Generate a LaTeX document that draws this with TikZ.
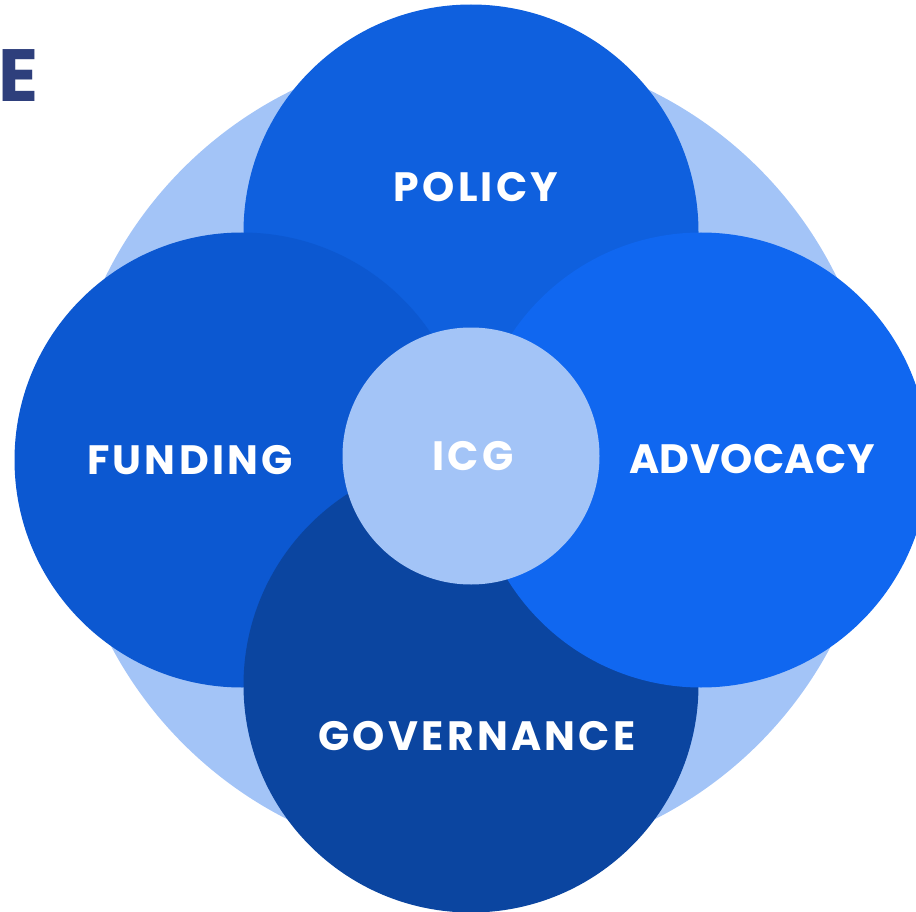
\documentclass[tikz,border=0pt]{standalone}
\usepackage{fontspec}
\setmainfont{Poppins}
\definecolor{ringblue}{HTML}{A3C4F7}
\definecolor{policyblue}{HTML}{0F60DE}
\definecolor{fundingblue}{HTML}{0C58D1}
\definecolor{advocacyblue}{HTML}{1067F0}
\definecolor{governblue}{HTML}{0B45A0}
\definecolor{titlenavy}{HTML}{2E3F7C}
\begin{document}
\begin{tikzpicture}[x=1pt, y=-1pt,
    blob/.style={circle, inner sep=0pt, minimum size=455pt},
    lbl/.style={text=white, inner sep=0pt,
      font=\bfseries\fontsize{41}{41}\selectfont\addfontfeature{LetterSpace=8}}]
  \useasboundingbox (0,0) rectangle (916,912);
  \node[circle, inner sep=0pt, minimum size=814pt, fill=ringblue] (ring) at (471,456) {};
  \node[blob, fill=policyblue] (policy) at (471,232) {};
  \node[blob, fill=fundingblue] (funding) at (242,460) {};
  \node[blob, fill=governblue] (governance) at (471,685) {};
  \node[blob, fill=advocacyblue] (advocacy) at (701,460) {};
  \node[circle, inner sep=0pt, minimum size=257pt, fill=ringblue] (icg) at (471,456) {};
  \node[lbl] (policytext) at (476,187) {POLICY};
  \node[lbl] (fundingtext) at (190,460) {FUNDING};
  \node[lbl] (advocacytext) at (752,459) {\addfontfeature{LetterSpace=1}ADVOCACY};
  \node[lbl] (governancetext) at (477,736) {GOVERNANCE};
  \node[lbl] (icgtext) at (473,456) {ICG};
  \node[anchor=base east, inner sep=0pt, text=titlenavy,
        font=\bfseries\fontsize{74}{74}\selectfont] (title) at (39,102) {E};
\end{tikzpicture}
\end{document}
